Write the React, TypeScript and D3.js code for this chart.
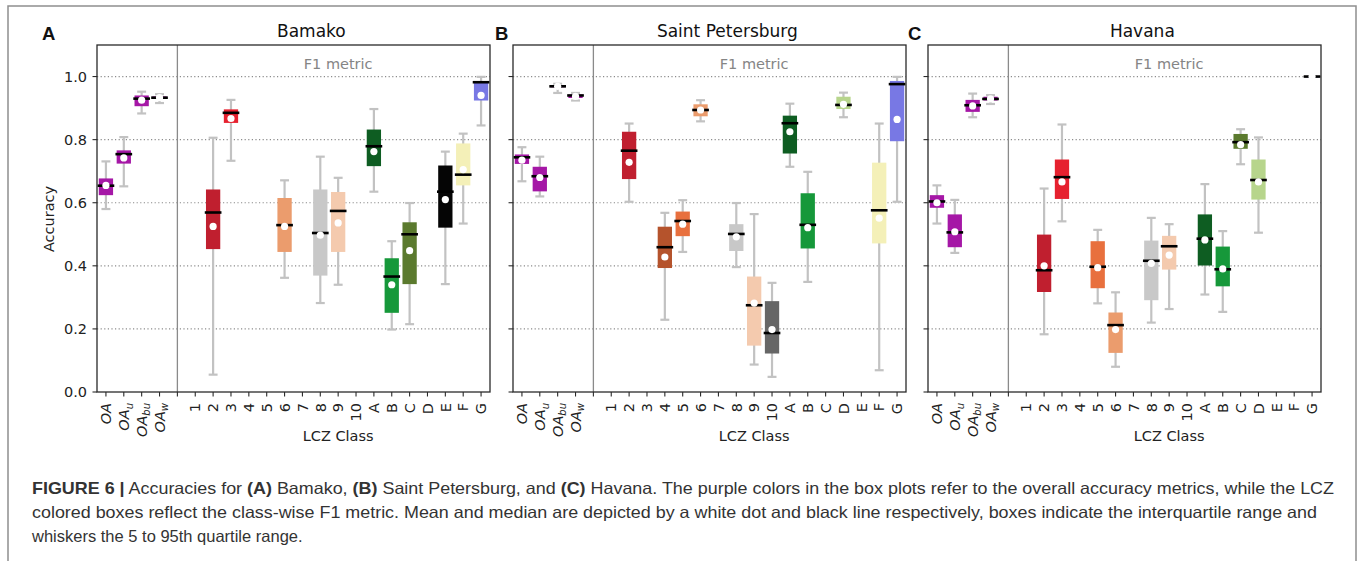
import React from "react";
import * as d3 from "d3";

// ---- categories ----
const X_KEYS = ["OA", "OAu", "OAbu", "OAw", "", "1", "2", "3", "4", "5", "6", "7", "8", "9", "10", "A", "B", "C", "D", "E", "F", "G"];
const OA_SUBS: Record<string, string> = { OA: "", OAu: "u", OAbu: "bu", OAw: "w" };
const Y_TICKS = [0.0, 0.2, 0.4, 0.6, 0.8, 1.0];
const GRID_TICKS = [0.2, 0.4, 0.6, 0.8, 1.0];

// ---- values: [key, whiskerLow, q1, median, mean, q3, whiskerHigh] ----
type Row = [string, number, number, number, number, number, number];

const bamako: Row[] = [
  ["OA", 0.580, 0.624, 0.654, 0.655, 0.677, 0.731],
  ["OAu", 0.652, 0.724, 0.754, 0.742, 0.766, 0.808],
  ["OAbu", 0.883, 0.906, 0.930, 0.925, 0.940, 0.952],
  ["OAw", 0.916, 0.929, 0.933, 0.933, 0.937, 0.944],
  ["2", 0.055, 0.453, 0.569, 0.525, 0.642, 0.806],
  ["3", 0.733, 0.853, 0.885, 0.867, 0.896, 0.926],
  ["6", 0.362, 0.444, 0.529, 0.525, 0.615, 0.671],
  ["8", 0.282, 0.369, 0.504, 0.497, 0.642, 0.746],
  ["9", 0.340, 0.444, 0.574, 0.536, 0.634, 0.679],
  ["A", 0.635, 0.716, 0.779, 0.762, 0.832, 0.897],
  ["B", 0.198, 0.251, 0.366, 0.340, 0.424, 0.478],
  ["C", 0.215, 0.342, 0.500, 0.448, 0.538, 0.599],
  ["E", 0.342, 0.521, 0.635, 0.610, 0.718, 0.762],
  ["F", 0.534, 0.655, 0.689, 0.705, 0.788, 0.819],
  ["G", 0.845, 0.924, 0.982, 0.940, 0.985, 0.999],
];

const saintPetersburg: Row[] = [
  ["OA", 0.668, 0.723, 0.744, 0.735, 0.753, 0.776],
  ["OAu", 0.620, 0.636, 0.684, 0.680, 0.714, 0.746],
  ["OAbu", 0.948, 0.966, 0.969, 0.969, 0.973, 0.977],
  ["OAw", 0.924, 0.932, 0.940, 0.937, 0.943, 0.948],
  ["2", 0.603, 0.675, 0.765, 0.728, 0.825, 0.851],
  ["4", 0.229, 0.393, 0.459, 0.428, 0.524, 0.568],
  ["5", 0.444, 0.494, 0.542, 0.532, 0.572, 0.608],
  ["6", 0.858, 0.874, 0.894, 0.894, 0.912, 0.925],
  ["8", 0.396, 0.447, 0.501, 0.492, 0.532, 0.599],
  ["9", 0.087, 0.147, 0.275, 0.282, 0.366, 0.564],
  ["10", 0.048, 0.122, 0.187, 0.198, 0.288, 0.346],
  ["A", 0.714, 0.756, 0.852, 0.825, 0.876, 0.914],
  ["B", 0.349, 0.455, 0.530, 0.521, 0.630, 0.698],
  ["D", 0.871, 0.897, 0.910, 0.912, 0.936, 0.949],
  ["F", 0.069, 0.471, 0.576, 0.551, 0.727, 0.851],
  ["G", 0.603, 0.795, 0.976, 0.864, 0.986, 0.999],
];

const havana: Row[] = [
  ["OA", 0.534, 0.584, 0.604, 0.600, 0.624, 0.655],
  ["OAu", 0.441, 0.459, 0.506, 0.508, 0.563, 0.609],
  ["OAbu", 0.871, 0.888, 0.909, 0.907, 0.926, 0.946],
  ["OAw", 0.913, 0.924, 0.929, 0.929, 0.936, 0.941],
  ["2", 0.183, 0.317, 0.386, 0.400, 0.499, 0.645],
  ["3", 0.541, 0.612, 0.681, 0.666, 0.737, 0.848],
  ["5", 0.281, 0.329, 0.397, 0.394, 0.478, 0.514],
  ["6", 0.080, 0.124, 0.212, 0.198, 0.252, 0.316],
  ["8", 0.220, 0.291, 0.416, 0.408, 0.480, 0.552],
  ["9", 0.263, 0.388, 0.462, 0.434, 0.495, 0.532],
  ["A", 0.309, 0.401, 0.486, 0.482, 0.563, 0.659],
  ["B", 0.254, 0.335, 0.389, 0.390, 0.461, 0.510],
  ["C", 0.722, 0.771, 0.792, 0.784, 0.818, 0.833],
  ["D", 0.505, 0.610, 0.672, 0.666, 0.737, 0.807],
  ["G", 1.0, 1.0, 1.0, 1.0, 1.0, 1.0],
];

const COLORS: Record<string, string> = {
  OA: "#a517a6", OAu: "#a517a6", OAbu: "#a517a6", OAw: "#a517a6",
  "1": "#8c1010", "2": "#c01f2f", "3": "#e6212f", "4": "#b5532c", "5": "#e8703e",
  "6": "#eb9c6d", "7": "#f2e84a", "8": "#c8c8c8", "9": "#f4caae", "10": "#666666",
  A: "#0e5d22", B: "#16983a", C: "#5b7a2e", D: "#b7d58c", E: "#050505", F: "#f4f0b8", G: "#7878e4",
};

const PANELS = [
  { letter: "A", title: "Bamako", data: bamako, left: 97, letterX: 42, showY: true },
  { letter: "B", title: "Saint Petersburg", data: saintPetersburg, left: 513, letterX: 495, showY: false },
  { letter: "C", title: "Havana", data: havana, left: 928, letterX: 908, showY: false },
];

const W = 1358, H = 561;
const PW = 393, TOP = 45, BOTTOM = 392;
const FONT = "'DejaVu Sans', sans-serif";
const CAP_FONT = "'Liberation Sans', Arial, sans-serif";

function Panel({ p }: { p: typeof PANELS[number] }) {
  const x = d3.scaleLinear().domain([-0.5, X_KEYS.length - 0.5]).range([p.left, p.left + PW]);
  const y = d3.scaleLinear().domain([0, 1.1]).range([BOTTOM, TOP]);
  const slot = x(1) - x(0);
  const bw = slot * 0.8;
  const cw = slot * 0.5;
  const sepX = x(4);
  const right = p.left + PW;
  return (
    <g>
      {GRID_TICKS.map((t) => (
        <line key={t} x1={p.left} x2={right} y1={y(t)} y2={y(t)} stroke="#8c8c8c" strokeWidth={1.2} strokeDasharray="1.2,2.4" />
      ))}
      <line x1={sepX} x2={sepX} y1={TOP} y2={BOTTOM} stroke="#8a8a8a" strokeWidth={1.3} />
      <text x={x(13)} y={69} textAnchor="middle" fontFamily={FONT} fontSize={14.5} fill="#858585">F1 metric</text>
      {p.data.map((r) => {
        const [k, lo, q1, med, mean, q3, hi] = r;
        const cx = x(X_KEYS.indexOf(k));
        return (
          <g key={k}>
            <line x1={cx} x2={cx} y1={y(lo)} y2={y(hi)} stroke="#c2c2c2" strokeWidth={2.2} />
            <line x1={cx - cw / 2} x2={cx + cw / 2} y1={y(lo)} y2={y(lo)} stroke="#c2c2c2" strokeWidth={2.2} />
            <line x1={cx - cw / 2} x2={cx + cw / 2} y1={y(hi)} y2={y(hi)} stroke="#c2c2c2" strokeWidth={2.2} />
            <rect x={cx - bw / 2} y={y(q3)} width={bw} height={Math.max(0.8, y(q1) - y(q3))} fill={COLORS[k]} />
            <line x1={cx - bw / 2 - 1.2} x2={cx + bw / 2 + 1.2} y1={y(med)} y2={y(med)} stroke="#000" strokeWidth={2.6} />
            <circle cx={cx} cy={y(mean)} r={3.6} fill="#fff" />
          </g>
        );
      })}
      <rect x={p.left} y={TOP} width={PW} height={BOTTOM - TOP} fill="none" stroke="#2a2a2a" strokeWidth={1.3} />
      {Y_TICKS.map((t) => (
        <g key={t}>
          <line x1={p.left - 4.5} x2={p.left} y1={y(t)} y2={y(t)} stroke="#2a2a2a" strokeWidth={1.1} />
          {p.showY && (
            <text x={p.left - 10} y={y(t)} dy="0.36em" textAnchor="end" fontFamily={FONT} fontSize={14.5} fill="#222">{t.toFixed(1)}</text>
          )}
        </g>
      ))}
      {p.showY && (
        <text transform={`translate(49,219) rotate(-90)`} textAnchor="middle" dy="0.36em" fontFamily={FONT} fontSize={14.5} fill="#222">Accuracy</text>
      )}
      {X_KEYS.map((k, i) => {
        const tx = x(i);
        const isOA = k in OA_SUBS;
        return (
          <g key={i}>
            <line x1={tx} x2={tx} y1={BOTTOM} y2={BOTTOM + 4.5} stroke="#2a2a2a" strokeWidth={1.1} />
            {k !== "" && (
              <text transform={`translate(${tx},${BOTTOM + 11}) rotate(-90)`} textAnchor="end" dy="0.36em" fontFamily={FONT} fontSize={14.5} fill="#222" fontStyle={isOA ? "italic" : "normal"}>
                {isOA ? "OA" : k}
                {isOA && OA_SUBS[k] !== "" && <tspan fontSize={10} dy={3.5}>{OA_SUBS[k]}</tspan>}
              </text>
            )}
          </g>
        );
      })}
      <text x={x(13)} y={441} textAnchor="middle" fontFamily={FONT} fontSize={14.5} fill="#222">LCZ Class</text>
      <text x={x(11.5)} y={37} textAnchor="middle" fontFamily={FONT} fontSize={17} fill="#111">{p.title}</text>
      <text x={p.letterX} y={40} fontFamily={CAP_FONT} fontWeight="bold" fontSize={18.5} fill="#111">{p.letter}</text>
    </g>
  );
}

export default function App() {
  return (
    <svg width={W} height={H} style={{ position: "absolute", left: 0, top: 0, background: "#fff" }}>
      <rect x={0} y={0} width={W} height={H} fill="#fff" />
      <path d={`M8,${H} V6 H1356 V${H}`} fill="none" stroke="#8f8f8f" strokeWidth={1.5} />
      {PANELS.map((p) => <Panel key={p.letter} p={p} />)}
      <g fontFamily={CAP_FONT} fontSize={16.5} fill="#333">
        <text x={32} y={494} textLength={1302} lengthAdjust="spacingAndGlyphs">
          <tspan fontWeight="bold">FIGURE 6 |</tspan> Accuracies for <tspan fontWeight="bold">(A)</tspan> Bamako, <tspan fontWeight="bold">(B)</tspan> Saint Petersburg, and <tspan fontWeight="bold">(C)</tspan> Havana. The purple colors in the box plots refer to the overall accuracy metrics, while the LCZ
        </text>
        <text x={32} y={518} textLength={1285} lengthAdjust="spacingAndGlyphs">
          colored boxes reflect the class-wise F1 metric. Mean and median are depicted by a white dot and black line respectively, boxes indicate the interquartile range and
        </text>
        <text x={32} y={542}>whiskers the 5 to 95th quartile range.</text>
      </g>
    </svg>
  );
}
